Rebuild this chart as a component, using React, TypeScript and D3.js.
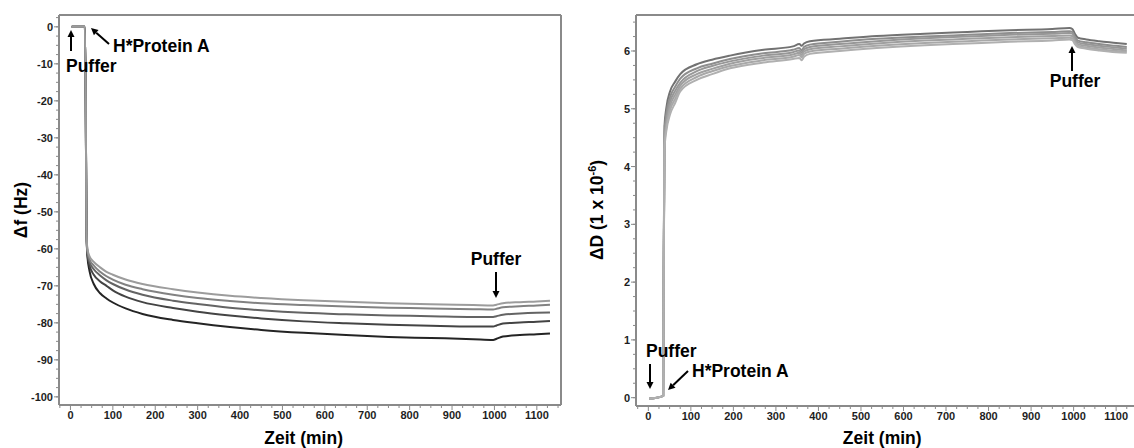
import React from "react";
import * as d3 from "d3";

// ---------- data ----------
const leftTimes = [3, 34, 36, 38, 40, 45, 55, 70, 85, 100, 130, 170, 242, 300, 376, 450, 550, 650, 750, 850, 950, 997, 1005, 1020, 1060, 1100, 1131];
const freq1 = [0, 0, -20, -56, -60, -62, -63.5, -65, -66.2, -67, -68.3, -69.5, -70.9, -71.8, -72.7, -73.3, -73.9, -74.3, -74.7, -75, -75.2, -75.3, -75.1, -74.7, -74.4, -74.2, -74];
const freq2 = [0, 0, -20, -56, -60.5, -62.8, -64.5, -66.2, -67.4, -68.3, -69.7, -70.9, -72.4, -73.3, -74.1, -74.7, -75.2, -75.6, -75.9, -76.1, -76.3, -76.4, -76.2, -75.8, -75.5, -75.3, -75.1];
const freq3 = [0, 0, -20, -56, -61, -63.5, -65.5, -67.2, -68.5, -69.5, -71, -72.4, -74, -74.9, -75.9, -76.6, -77.3, -77.7, -78, -78.2, -78.4, -78.4, -78.2, -77.8, -77.5, -77.3, -77.2];
const freq4 = [0, 0, -20, -56, -61.5, -64.5, -67, -68.8, -70, -71.2, -72.9, -74.4, -76, -77, -78, -78.8, -79.6, -80.1, -80.5, -80.8, -81, -81, -80.7, -80.2, -79.9, -79.7, -79.5];
const freq5 = [0, 0, -20, -56, -62, -66, -69.5, -72, -73.4, -74.5, -76.1, -77.6, -79.2, -80.1, -81.1, -81.9, -82.7, -83.3, -83.8, -84.1, -84.4, -84.6, -84.3, -83.7, -83.3, -83.1, -82.9];
const freqSeries = [freq5, freq4, freq3, freq2, freq1];
const freqColors = ["#242424", "#444444", "#646464", "#828282", "#9c9c9c"];

const rightTimes = [2, 35, 36, 38, 42, 51, 63, 75, 114, 150, 192, 271, 340, 355, 361, 366, 380, 450, 537, 650, 750, 850, 950, 990, 997, 1003, 1010, 1030, 1060, 1100, 1125];
const diss1 = [-0.02, 0.03, 2.0, 4.7, 5.0, 5.3, 5.47, 5.6, 5.77, 5.85, 5.92, 6.02, 6.08, 6.12, 6.09, 6.13, 6.17, 6.21, 6.26, 6.3, 6.33, 6.36, 6.38, 6.4, 6.38, 6.3, 6.23, 6.2, 6.17, 6.14, 6.12];
const diss2 = [-0.02, 0.03, 2.0, 4.6, 4.9, 5.2, 5.38, 5.52, 5.7, 5.78, 5.86, 5.96, 6.02, 6.05, 6.01, 6.07, 6.11, 6.16, 6.21, 6.25, 6.28, 6.31, 6.33, 6.34, 6.33, 6.25, 6.18, 6.15, 6.12, 6.09, 6.07];
const diss3 = [-0.02, 0.03, 2.0, 4.5, 4.8, 5.12, 5.31, 5.45, 5.65, 5.74, 5.82, 5.92, 5.98, 6.01, 5.97, 6.03, 6.07, 6.12, 6.17, 6.22, 6.25, 6.28, 6.3, 6.31, 6.3, 6.22, 6.15, 6.12, 6.09, 6.06, 6.04];
const diss4 = [-0.02, 0.03, 2.0, 4.45, 4.72, 5.05, 5.24, 5.4, 5.6, 5.69, 5.78, 5.88, 5.94, 5.97, 5.93, 5.99, 6.03, 6.08, 6.13, 6.18, 6.21, 6.24, 6.26, 6.27, 6.26, 6.18, 6.12, 6.09, 6.06, 6.03, 6.01];
const diss5 = [-0.02, 0.03, 2.0, 4.38, 4.66, 4.98, 5.17, 5.35, 5.55, 5.65, 5.74, 5.84, 5.9, 5.93, 5.89, 5.95, 5.99, 6.04, 6.09, 6.14, 6.17, 6.2, 6.22, 6.23, 6.22, 6.15, 6.09, 6.06, 6.03, 6.0, 5.99];
const diss6 = [-0.02, 0.03, 2.0, 4.3, 4.6, 4.9, 5.1, 5.3, 5.5, 5.6, 5.7, 5.8, 5.86, 5.88, 5.84, 5.9, 5.95, 6.0, 6.05, 6.1, 6.13, 6.16, 6.18, 6.2, 6.19, 6.12, 6.07, 6.04, 6.01, 5.98, 5.97];
const dissSeries = [diss1, diss2, diss3, diss4, diss5, diss6];
const dissColors = ["#727272", "#8e8e8e", "#979797", "#a0a0a0", "#a8a8a8", "#b0b0b0"];

const timeTicks = [0, 100, 200, 300, 400, 500, 600, 700, 800, 900, 1000, 1100];
const freqTicks = [0, -10, -20, -30, -40, -50, -60, -70, -80, -90, -100];
const dissTicks = [0, 1, 2, 3, 4, 5, 6];

// ---------- layout ----------
const FONT = "'Liberation Sans', Arial, sans-serif";
const AXIS = "#8a8a8a";
const LABEL = "#1e1e1e";

const xL = d3.scaleLinear().domain([-27, 1157]).range([59, 561]);
const yL = d3.scaleLinear().domain([-102.2, 3.2]).range([405, 15]);
const xR = d3.scaleLinear().domain([-29, 1142]).range([636, 1134]);
const yR = d3.scaleLinear().domain([-0.144, 6.623]).range([406, 15]);

function range(a: number, b: number, s: number) {
  const out: number[] = [];
  for (let v = a; v <= b + 1e-9; v += s) out.push(+v.toFixed(4));
  return out;
}

function Arrow({ x1, y1, x2, y2 }: { x1: number; y1: number; x2: number; y2: number }) {
  const ang = Math.atan2(y2 - y1, x2 - x1);
  const L = 7, W = 3.5;
  const bx = x2 - L * Math.cos(ang), by = y2 - L * Math.sin(ang);
  const p1 = [bx + W * Math.sin(ang), by - W * Math.cos(ang)];
  const p2 = [bx - W * Math.sin(ang), by + W * Math.cos(ang)];
  return (
    <g>
      <line x1={x1} y1={y1} x2={bx} y2={by} stroke="#000" strokeWidth={2} />
      <polygon points={`${x2},${y2} ${p1[0]},${p1[1]} ${p2[0]},${p2[1]}`} fill="#000" />
    </g>
  );
}

function Panel({
  x, y, times, series, colors, yTicks, yMinor, yFmt, bottomY, leftX, topY, rightX, drawRight,
}: any) {
  const line = d3
    .line<number>()
    .x((_, i) => x(times[i]))
    .y((v) => y(v))
    .curve(d3.curveMonotoneX);
  const xMinor = range(-25, 1150, 25).filter((v) => v >= x.domain()[0] && v <= x.domain()[1]);
  return (
    <g>
      {series.map((s: number[], i: number) => (
        <path key={i} d={line(s) || ""} fill="none" stroke={colors[i]} strokeWidth={2} strokeLinejoin="round" />
      ))}
      {/* frame */}
      <line x1={leftX} y1={topY} x2={leftX} y2={bottomY} stroke={AXIS} strokeWidth={2} />
      <line x1={leftX} y1={bottomY} x2={rightX} y2={bottomY} stroke={AXIS} strokeWidth={2} />
      <line x1={leftX} y1={topY} x2={rightX} y2={topY} stroke={AXIS} strokeWidth={2} />
      {drawRight && <line x1={rightX} y1={topY} x2={rightX} y2={bottomY} stroke={AXIS} strokeWidth={2} />}
      {/* x ticks */}
      {xMinor.map((v: number) => (
        <line key={"xm" + v} x1={x(v)} x2={x(v)} y1={bottomY} y2={bottomY + (v % 100 === 0 ? 5 : 3)} stroke={AXIS} strokeWidth={1} />
      ))}
      {timeTicks.map((v) => (
        <text key={"xt" + v} x={x(v)} y={bottomY + 14} textAnchor="middle" fontFamily={FONT} fontWeight="bold" fontSize={11} fill={LABEL}>
          {v}
        </text>
      ))}
      {/* y ticks */}
      {yMinor.map((v: number) => (
        <line key={"ym" + v} x1={leftX} x2={leftX - 3} y1={y(v)} y2={y(v)} stroke={AXIS} strokeWidth={1} />
      ))}
      {yTicks.map((v: number) => (
        <g key={"yt" + v}>
          <line x1={leftX} x2={leftX - 5} y1={y(v)} y2={y(v)} stroke={AXIS} strokeWidth={1} />
          <text x={leftX - 6} y={y(v) + 4} textAnchor="end" fontFamily={FONT} fontWeight="bold" fontSize={11} fill={LABEL}>
            {yFmt(v)}
          </text>
        </g>
      ))}
    </g>
  );
}

const annoStyle = { fontFamily: FONT, fontWeight: "bold" as const, fontSize: 17.5, fill: "#000" };
const titleStyle = { fontFamily: FONT, fontWeight: "bold" as const, fontSize: 17.5, fill: "#000" };

export default function App() {
  return (
    <div style={{ position: "absolute", left: 0, top: 0 }}>
      <svg width={1134} height={448} style={{ display: "block", background: "#fff" }}>
        <Panel
          x={xL} y={yL} times={leftTimes} series={freqSeries} colors={freqColors}
          yTicks={freqTicks} yMinor={range(-100, 2.5, 2.5)} yFmt={(v: number) => String(v)}
          bottomY={405} leftX={59} topY={15} rightX={561} drawRight={true}
        />
        <Panel
          x={xR} y={yR} times={rightTimes} series={dissSeries} colors={dissColors}
          yTicks={dissTicks} yMinor={range(0, 6.5, 0.25)} yFmt={(v: number) => String(v)}
          bottomY={406} leftX={636} topY={15} rightX={1134} drawRight={false}
        />

        {/* axis titles */}
        <text x={xL(550)} y={444} textAnchor="middle" {...titleStyle}>Zeit (min)</text>
        <text x={xR(550)} y={444} textAnchor="middle" {...titleStyle}>Zeit (min)</text>
        <text transform="translate(27,210) rotate(-90)" textAnchor="middle" {...titleStyle}>Δf (Hz)</text>
        <text transform="translate(603,210) rotate(-90)" textAnchor="middle" {...titleStyle}>
          ΔD (1 x 10<tspan dy={-7} fontSize={11}>-6</tspan><tspan dy={7}>)</tspan>
        </text>

        {/* left annotations */}
        <Arrow x1={71} y1={51} x2={71} y2={30} />
        <text x={66} y={72} {...annoStyle}>Puffer</text>
        <Arrow x1={109} y1={44} x2={91} y2={28} />
        <text x={113} y={52} {...annoStyle}>H*Protein A</text>
        <text x={496} y={265} textAnchor="middle" {...annoStyle}>Puffer</text>
        <Arrow x1={496} y1={272} x2={496} y2={298} />

        {/* right annotations */}
        <text x={646} y={357} {...annoStyle}>Puffer</text>
        <Arrow x1={650} y1={364} x2={650} y2={389} />
        <Arrow x1={688} y1={371} x2={668} y2={390} />
        <text x={692} y={377} {...annoStyle}>H*Protein A</text>
        <Arrow x1={1072} y1={71} x2={1072} y2={46} />
        <text x={1075} y={87} textAnchor="middle" {...annoStyle}>Puffer</text>
      </svg>
    </div>
  );
}
